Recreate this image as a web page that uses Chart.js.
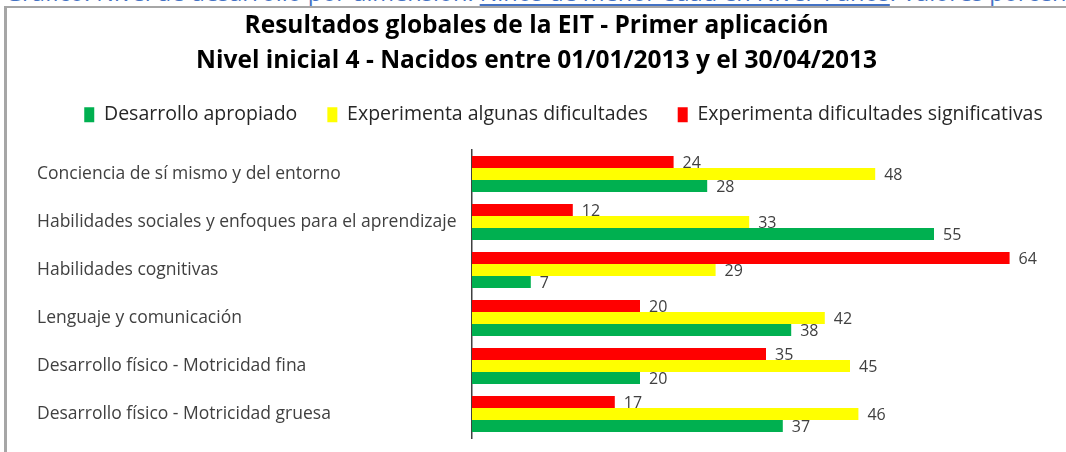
<!DOCTYPE html>
<html lang="es">
<head>
<meta charset="utf-8">
<title>Resultados globales de la EIT</title>
<script src="https://cdn.jsdelivr.net/npm/chart.js@4.4.1/dist/chart.umd.min.js"></script>
<style>
  html, body { margin: 0; padding: 0; background: #fff; overflow: hidden; }
  body { width: 1066px; height: 452px; position: relative; }
  .encabezado {
    position: absolute; left: 5px; top: -23px; white-space: nowrap;
    font-family: "Open Sans", sans-serif; font-size: 23.5px; line-height: 30px; color: #4472c4;
  }
  .encabezado u { text-decoration-thickness: 2px; text-underline-offset: 3px; }
  .marco {
    position: absolute; left: 4px; top: 6px; width: 1080px; height: 470px;
    border-left: 3px solid #a6a6a6; border-top: 2px solid #a6a6a6;
  }
  #grafico { position: absolute; left: 0; top: 0; }
</style>
</head>
<body>
<div class="encabezado">Gráfico: Nivel de desarrollo por dimensión. <u>Niños de menor edad en Nivel 4 años</u>. Valores porcentuales</div>
<div class="marco"></div>
<canvas id="grafico" width="1066" height="452"></canvas>
<script>
const titulo = [
  'Resultados globales de la EIT - Primer aplicación',
  'Nivel inicial 4 - Nacidos entre 01/01/2013 y el 30/04/2013'
];

const dimensiones = [
  'Conciencia de sí mismo y del entorno',
  'Habilidades sociales y enfoques para el aprendizaje',
  'Habilidades cognitivas',
  'Lenguaje y comunicación',
  'Desarrollo físico - Motricidad fina',
  'Desarrollo físico - Motricidad gruesa'
];

const significativas = [24, 12, 64, 20, 35, 17];
const algunas = [48, 33, 29, 42, 45, 46];
const apropiado = [28, 55, 7, 38, 20, 37];

// colores tipo Excel
const rojo = '#ff0000';
const amarillo = '#ffff00';
const verde = '#00b050';

// etiquetas de valor al final de cada barra
const etiquetasValor = {
  id: 'etiquetasValor',
  afterDatasetsDraw(chart) {
    const ctx = chart.ctx;
    ctx.save();
    ctx.font = '16px "Open Sans", sans-serif';
    ctx.fillStyle = '#404040';
    ctx.textAlign = 'left';
    ctx.textBaseline = 'middle';
    chart.data.datasets.forEach((ds, i) => {
      chart.getDatasetMeta(i).data.forEach((barra, j) => {
        ctx.fillText(ds.data[j], barra.x + 9, barra.y + 1);
      });
    });
    ctx.restore();
  }
};

// en el original el título y la leyenda no comparten el mismo centro
const moverCajas = {
  id: 'moverCajas',
  afterLayout(chart) {
    chart.titleBlock.left -= 12;
    chart.titleBlock.right -= 12;
    chart.legend.left += 15;
    chart.legend.right += 15;
  }
};

new Chart(document.getElementById('grafico'), {
  type: 'bar',
  data: {
    labels: dimensiones,
    datasets: [
      { label: 'Experimenta dificultades significativas', data: significativas, backgroundColor: rojo },
      { label: 'Experimenta algunas dificultades', data: algunas, backgroundColor: amarillo },
      { label: 'Desarrollo apropiado', data: apropiado, backgroundColor: verde }
    ]
  },
  options: {
    indexAxis: 'y',
    responsive: false,
    animation: false,
    events: [],
    layout: { padding: { left: 37, right: 6, top: 0, bottom: 14 } },
    datasets: {
      bar: { categoryPercentage: 0.75, barPercentage: 1, borderWidth: 0 }
    },
    plugins: {
      title: {
        display: true,
        text: titulo,
        color: '#000',
        font: { family: '"Open Sans", sans-serif', size: 24.5, weight: 'bold', lineHeight: 35 / 24.5 },
        padding: { top: 9, bottom: -4 }
      },
      legend: {
        reverse: true,
        labels: {
          color: '#262626',
          boxWidth: 10,
          boxHeight: 15,
          padding: 30,
          font: { family: '"Open Sans", sans-serif', size: 19.5 }
        }
      },
      tooltip: { enabled: false }
    },
    scales: {
      x: {
        position: 'top',
        min: 0,
        max: 70,
        ticks: { display: false },
        grid: { display: false },
        border: { display: false },
        afterFit: s => { s.height = 15.5; }
      },
      y: {
        grid: { display: false, drawTicks: false },
        border: { display: true, color: '#404040', width: 1.5 },
        ticks: {
          crossAlign: 'far',
          color: '#404040',
          padding: 0,
          font: { family: '"Open Sans", sans-serif', size: 17.5 }
        },
        afterFit: s => { s.width = 435; }
      }
    }
  },
  plugins: [etiquetasValor, moverCajas]
});
</script>
</body>
</html>
